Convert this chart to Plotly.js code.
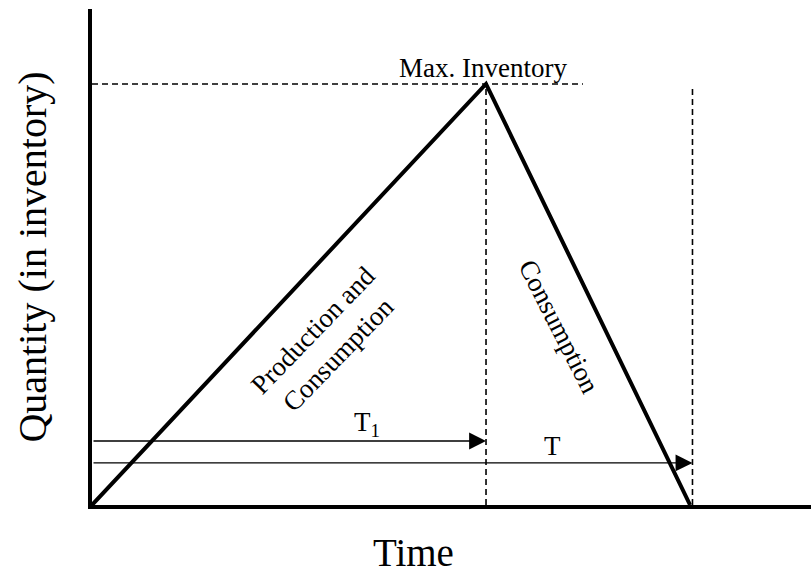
<!DOCTYPE html>
<html>
<head>
<meta charset="utf-8">
<script src="https://cdn.plot.ly/plotly-3.0.1.min.js"></script>
<style>
  html, body { margin: 0; padding: 0; background: #fff; }
  #chart { width: 811px; height: 577px; }
</style>
</head>
<body>
<div id="chart"></div>
<script>
// inventory cycle: build-up until T1, then draw-down until T
const cycleTime = [0, 5, 7.59];        // time points of the saw-tooth
const cycleQty = [0, 100, 0];          // quantity in inventory
const maxInventory = 100;
const t1 = 5;                          // end of production
const tCycle = 7.62;                   // end of cycle (T)
const maxLineEnd = 6.23;               // where the max inventory guide stops
const arrowLevels = [15.2, 10];        // heights of the T1 and T arrows

const serif = 'Liberation Serif, Times New Roman, serif';

const trace = {
    x: cycleTime,
    y: cycleQty,
    type: 'scatter',
    mode: 'lines',
    line: { color: '#000', width: 4 },
    hoverinfo: 'skip'
};

const dashed = { color: '#000', width: 1.6, dash: '6px,4px' };

const shapes = [
    // max inventory guide
    { type: 'line', xref: 'x', yref: 'y', x0: 0, x1: maxLineEnd, y0: maxInventory, y1: maxInventory, line: dashed },
    // end of production
    { type: 'line', xref: 'x', yref: 'y', x0: t1, x1: t1, y0: 0, y1: maxInventory, line: dashed },
    // end of cycle
    { type: 'line', xref: 'x', yref: 'y', x0: tCycle, x1: tCycle, y0: 0, y1: maxInventory - 0.3, line: dashed }
];

const annotations = [
    // T1 arrow
    { x: t1, y: arrowLevels[0], ax: 0, ay: arrowLevels[0], xref: 'x', yref: 'y', axref: 'x', ayref: 'y',
      text: '', showarrow: true, arrowhead: 2, arrowsize: 2.6, arrowwidth: 1.3, arrowcolor: '#000', standoff: 0 },
    // T arrow
    { x: tCycle, y: arrowLevels[1], ax: 0, ay: arrowLevels[1], xref: 'x', yref: 'y', axref: 'x', ayref: 'y',
      text: '', showarrow: true, arrowhead: 2, arrowsize: 2.6, arrowwidth: 1.3, arrowcolor: '#000', standoff: 0 },
    { x: 3.49, y: 19.2, xref: 'x', yref: 'y', text: 'T<sub>1</sub>', showarrow: false,
      font: { family: serif, size: 27, color: '#000' } },
    { x: 5.84, y: 14.0, xref: 'x', yref: 'y', text: 'T', showarrow: false,
      font: { family: serif, size: 27, color: '#000' } },
    { x: 4.96, y: 103.8, xref: 'x', yref: 'y', text: 'Max. Inventory', showarrow: false,
      font: { family: serif, size: 27, color: '#000' } },
    { x: 2.96, y: 38.7, xref: 'x', yref: 'y', text: 'Production and<br>Consumption', showarrow: false,
      textangle: -46, font: { family: serif, size: 27, color: '#000' } },
    { x: 5.93, y: 42.3, xref: 'x', yref: 'y', text: 'Consumption', showarrow: false,
      textangle: 63, font: { family: serif, size: 27, color: '#000' } },
    // x axis title placed off-centre like the original (paper coords from pixel position)
    { x: (413 - 92) / 719, y: (505 - 552) / 496, xref: 'paper', yref: 'paper', text: 'Time', showarrow: false,
      yanchor: 'middle', font: { family: serif, size: 39, color: '#000' } }
];

const layout = {
    width: 811,
    height: 577,
    margin: { l: 92, r: 0, t: 9, b: 72 },
    paper_bgcolor: '#fff',
    plot_bgcolor: '#fff',
    showlegend: false,
    xaxis: {
        range: [0, 9.124],
        showgrid: false, zeroline: false, showticklabels: false, ticks: '',
        showline: true, linecolor: '#000', linewidth: 4
    },
    yaxis: {
        range: [0, 117.8],
        showgrid: false, zeroline: false, showticklabels: false, ticks: '',
        showline: true, linecolor: '#000', linewidth: 4,
        title: { text: 'Quantity (in inventory)', standoff: 30, font: { family: serif, size: 40, color: '#000' } }
    },
    shapes: shapes,
    annotations: annotations
};

Plotly.newPlot('chart', [trace], layout, { displayModeBar: false, staticPlot: true });
</script>
</body>
</html>
